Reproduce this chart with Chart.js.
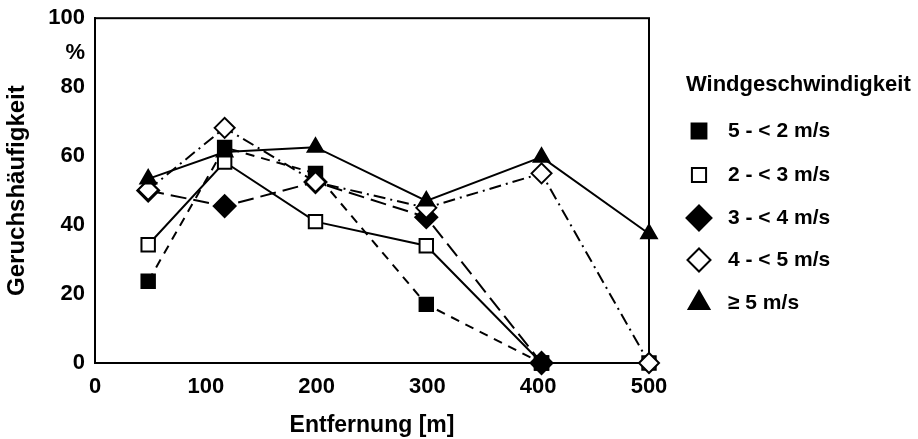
<!DOCTYPE html>
<html>
<head>
<meta charset="utf-8">
<script src="https://cdn.jsdelivr.net/npm/chart.js@4/dist/chart.umd.min.js"></script>
<style>
html,body{margin:0;padding:0;background:#fff;}
#wrap{width:918px;height:439px;position:relative;}
</style>
</head>
<body>
<div id="wrap"><canvas id="c" width="918" height="439"></canvas></div>
<script>
// ---- data ----
const xTicks = [0, 100, 200, 300, 400, 500];
const yTicks = [0, 20, 40, 60, 80, 100];
const legendTitle = 'Windgeschwindigkeit';
const seriesNames = ['5 - < 2 m/s', '2 - < 3 m/s', '3 - < 4 m/s', '4 - < 5 m/s', '\u2265 5 m/s'];

const xS1 = [48, 117, 199, 299, 403];
const yS1 = [23.7, 62.5, 55, 17, 0];

const xS2 = [48, 117, 199, 299, 403, 500];
const yS2 = [34.3, 58.3, 41, 34, 0, 0];

const xS3 = [48, 117, 199, 299, 403];
const yS3 = [50, 45.5, 52.5, 42.3, 0];

const xS4 = [48, 117, 199, 299, 403, 500];
const yS4 = [50.2, 68.2, 52.5, 45, 55, 0];

const xS5 = [48, 117, 199, 299, 403, 500];
const yS5 = [53.4, 61.2, 62.6, 47, 59.7, 37.5];

function pts(xs, ys){ return xs.map((x,i)=>({x:x, y:ys[i]})); }

const FONT = '"Liberation Sans", Arial, sans-serif';

const styles = [
  {pointStyle:'rect', radius:9.5, fill:'#000', dash:[9,7], order:2},
  {pointStyle:'rect', radius:9.5, fill:'#fff', dash:[], order:4},
  {pointStyle:'rectRot', radius:11, fill:'#000', dash:[16,7], order:3},
  {pointStyle:'rectRot', radius:10, fill:'#fff', dash:[12,5,2,5], order:1},
  {pointStyle:'triangle', radius:9, fill:'#000', dash:[], order:0}
];
const dataSets = [pts(xS1,yS1), pts(xS2,yS2), pts(xS3,yS3), pts(xS4,yS4), pts(xS5,yS5)];

const datasets = dataSets.map((d,i)=>({
  label: seriesNames[i],
  data: d,
  showLine: true,
  clip: false,
  borderColor: '#000',
  borderWidth: 2,
  borderDash: styles[i].dash,
  pointStyle: styles[i].pointStyle,
  pointRadius: styles[i].radius,
  pointBackgroundColor: styles[i].fill,
  pointBorderColor: '#000',
  pointBorderWidth: 2,
  fill: false,
  tension: 0,
  order: styles[i].order
}));

const legendSizes = [10.5, 10, 12.5, 11.5, 12];

const boxPlugin = {
  id: 'box',
  beforeDatasetsDraw(chart){
    const {ctx, chartArea:a} = chart;
    ctx.save();
    ctx.strokeStyle = '#000';
    ctx.lineWidth = 2;
    ctx.setLineDash([]);
    ctx.strokeRect(a.left, a.top, a.right - a.left, a.bottom - a.top);
    ctx.restore();
  },
  afterDraw(chart){
    const {ctx} = chart;
    ctx.save();
    ctx.fillStyle = '#000';
    ctx.font = 'bold 22px ' + FONT;
    ctx.textBaseline = 'middle';
    ctx.textAlign = 'left';
    ctx.fillText(legendTitle, 686, 85);
    const ys = [131, 175, 218, 260, 303];
    chart.data.datasets.forEach((ds, i) => {
      ctx.save();
      ctx.fillStyle = ds.pointBackgroundColor;
      ctx.strokeStyle = '#000';
      ctx.lineWidth = 2;
      ctx.setLineDash([]);
      Chart.helpers.drawPoint(ctx, {pointStyle: ds.pointStyle, radius: legendSizes[i], borderWidth: 2, rotation: 0}, 699, ys[i]);
      ctx.restore();
      ctx.fillStyle = '#000';
      ctx.font = 'bold 21px ' + FONT;
      ctx.fillText(ds.label, 728, ys[i]);
    });
    ctx.restore();
  }
};

new Chart(document.getElementById('c'), {
  type: 'scatter',
  data: { datasets },
  options: {
    responsive: false,
    animation: false,
    devicePixelRatio: 1,
    layout: { padding: { left: 0, right: 269, top: 18, bottom: 0 } },
    plugins: { legend: { display: false }, tooltip: { enabled: false } },
    scales: {
      x: {
        type: 'linear',
        min: 0, max: 500,
        afterBuildTicks: s => { s.ticks = xTicks.map(v => ({value: v})); },
        afterFit: s => { s.height = 76; },
        grid: { display: false, drawOnChartArea: false, drawTicks: true, tickLength: 5, tickColor: '#000', tickWidth: 2 },
        border: { display: true, color: '#000', width: 2 },
        ticks: { color: '#000', font: { family: FONT, size: 22, weight: 'bold' }, padding: 6, maxRotation: 0 },
        title: { display: true, text: 'Entfernung [m]', color: '#000', font: { family: FONT, size: 23, weight: 'bold' }, padding: { top: 6, bottom: 0 } }
      },
      y: {
        type: 'linear',
        min: 0, max: 100,
        afterBuildTicks: s => { s.ticks = [0,20,40,60,80,90,100].map(v => ({value: v})); },
        afterFit: s => { s.width = 95; },
        grid: { display: false, drawOnChartArea: false, drawTicks: true, tickLength: 5, tickWidth: 2,
                tickColor: c => (c.tick && c.tick.value === 90) ? 'rgba(0,0,0,0)' : '#000' },
        border: { display: true, color: '#000', width: 2 },
        ticks: { color: '#000', font: { family: FONT, size: 22, weight: 'bold' }, padding: 5,
                 callback: v => v === 90 ? '%' : (yTicks.includes(v) ? String(v) : '') },
        title: { display: true, text: 'Geruchshäufigkeit', color: '#000', font: { family: FONT, size: 24, weight: 'bold' }, padding: { top: 3, bottom: 0 } }
      }
    }
  },
  plugins: [boxPlugin]
});
</script>
</body>
</html>
